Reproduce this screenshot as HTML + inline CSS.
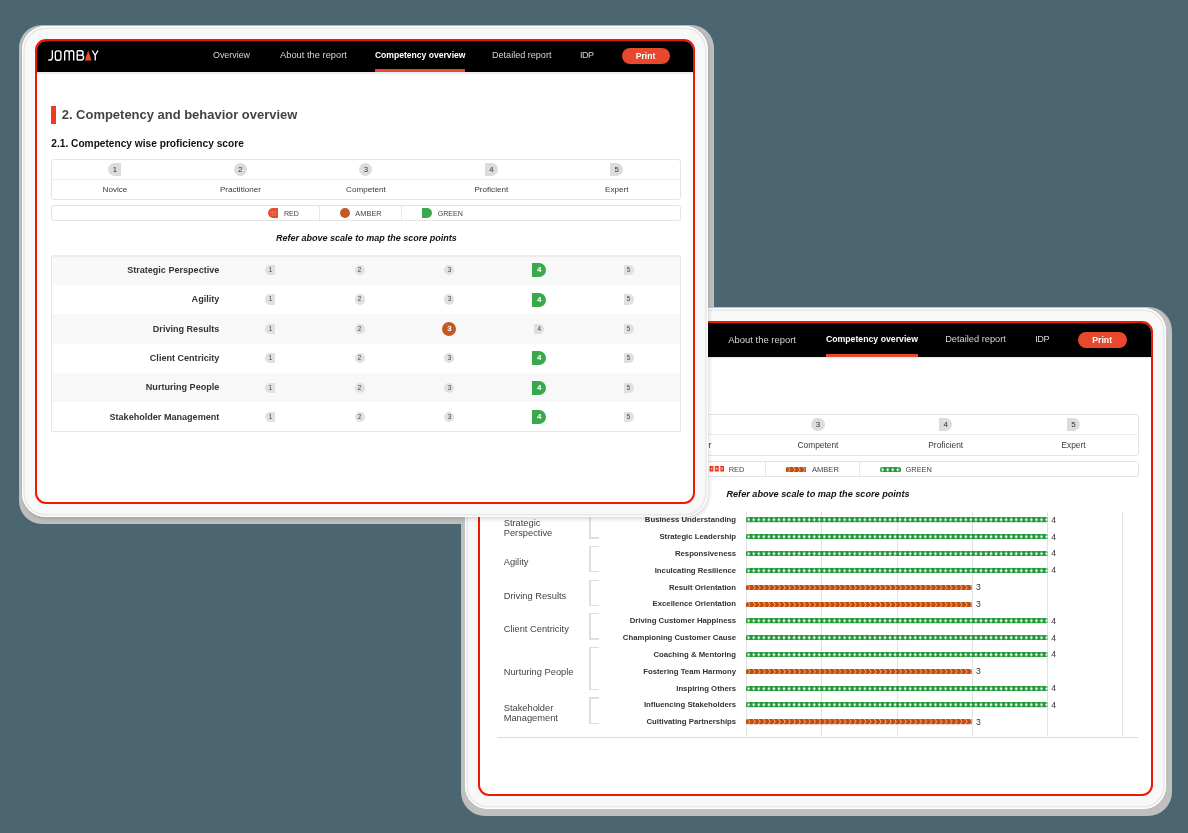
<!DOCTYPE html>
<html><head><meta charset="utf-8"><style>
html,body{margin:0;padding:0;}
body{width:1188px;height:833px;background:#4b6670;position:relative;overflow:hidden;font-family:"Liberation Sans", sans-serif;}
div,svg{box-sizing:border-box;}
</style></head><body>

<div style="position:absolute;left:18.8px;top:25px;width:695.1px;height:498.7px;background:#bfbfbf;border-radius:23px;z-index:1"></div>
<div style="position:absolute;left:460.9px;top:306.7px;width:711px;height:509.3px;background:#bfbfbf;border-radius:24px;z-index:2"></div>
<div style="position:absolute;left:465px;top:307.5px;width:701px;height:501.5px;background:#f8f8f8;border-radius:23px;box-shadow:inset 0 0 0 1.4px #fff,inset 0 0 0 2.7px #e3e3e3;z-index:2"></div>
<div style="position:absolute;left:478px;top:321px;width:675px;height:475px;border:2px solid #ee1a00;border-radius:11px;background:#fff;overflow:hidden;z-index:2;will-change:transform"><div style="position:absolute;left:0px;top:0px;width:673.1px;height:33.8px;background:#000;box-shadow:0 1px 1.5px rgba(0,0,0,0.13)"></div><div style="position:absolute;left:0px;top:33.8px;width:673.1px;height:1.5px;background:#ededed"></div><svg style="position:absolute;left:11px;top:9px;overflow:visible" width="50" height="11" viewBox="0 0 50 11">
<g fill="none" stroke="#fff" stroke-width="1.35">
<path d="M4.3 0.3 V7.6 Q4.3 10 2 10 H0.3"/>
<rect x="7.3" y="0.8" width="5.6" height="9.4" rx="2.2"/>
<path d="M16.7 10.6 V2.8 Q16.7 0.7 18.8 0.7 Q21.2 0.7 21.2 2.8 V10.6 M21.2 2.8 Q21.2 0.7 23.6 0.7 Q25.7 0.7 25.7 2.8 V10.6"/>
<path d="M29.2 0.7 H33 Q35.1 0.7 35.1 2.9 Q35.1 5.1 33 5.1 H29.2 M29.2 5.1 H33.3 Q35.6 5.1 35.6 7.6 Q35.6 10 33.3 10 H29.2 M29.2 0.7 V10"/>
<path d="M44.3 0.5 L47.2 5.3 L50 0.5 M47.2 5.3 V10.6"/>
</g>
<path d="M40.2 0.2 L43.6 10.6 H36.9 Z" fill="#f04a28"/>
</svg><div style="position:absolute;left:180px;top:11.73px;font-size:9.3px;line-height:9.3px;white-space:nowrap;color:#d6d6d6;">Overview</div><div style="position:absolute;left:248.3px;top:11.6px;font-size:9.45px;line-height:9.45px;white-space:nowrap;color:#d6d6d6;">About the report</div><div style="position:absolute;left:345.9px;top:12.21px;font-size:8.73px;line-height:8.73px;white-space:nowrap;color:#fff;font-weight:bold;">Competency overview</div><div style="position:absolute;left:345.9px;top:30.7px;width:92.2px;height:2.9px;background:#e8482e"></div><div style="position:absolute;left:465.2px;top:11.77px;font-size:9.25px;line-height:9.25px;white-space:nowrap;color:#d6d6d6;">Detailed report</div><div style="position:absolute;left:555.2px;top:11.81px;font-size:9.2px;line-height:9.2px;white-space:nowrap;color:#d6d6d6;letter-spacing:-0.45px;">IDP</div><div style="position:absolute;left:598px;top:9.2px;width:48.5px;height:16px;background:#e8482e;border-radius:8px"></div><div style="position:absolute;left:592.2px;top:13.14px;font-size:8.7px;line-height:8.7px;white-space:nowrap;width:60px;text-align:center;color:#fff;font-weight:bold;">Print</div><div style="position:absolute;left:18.7px;top:91.3px;width:640.3px;height:41.3px;border:1px solid #e4e4e4;border-radius:3px;"></div><div style="position:absolute;left:18.7px;top:110.6px;width:640.3px;height:1px;background:#ececec"></div><div style="position:absolute;left:75.75px;top:95.05px;width:13.2px;height:13.2px;border-radius:6.6px 0 0 6.6px;background:#dcdcdc;color:#333;font-size:8px;line-height:13.2px;text-align:center;">1</div><div style="position:absolute;left:22.35px;top:117.89px;font-size:8.4px;line-height:8.4px;white-space:nowrap;width:120px;text-align:center;color:#3a3a3a;">Novice</div><div style="position:absolute;left:203.55px;top:95.05px;width:13.2px;height:13.2px;border-radius:50%;background:#dcdcdc;color:#333;font-size:8px;line-height:13.2px;text-align:center;">2</div><div style="position:absolute;left:150.15px;top:117.89px;font-size:8.4px;line-height:8.4px;white-space:nowrap;width:120px;text-align:center;color:#3a3a3a;">Practitioner</div><div style="position:absolute;left:331.35px;top:95.05px;width:13.2px;height:13.2px;border-radius:50%;background:#dcdcdc;color:#333;font-size:8px;line-height:13.2px;text-align:center;">3</div><div style="position:absolute;left:277.95px;top:117.89px;font-size:8.4px;line-height:8.4px;white-space:nowrap;width:120px;text-align:center;color:#3a3a3a;">Competent</div><div style="position:absolute;left:459.15px;top:95.05px;width:13.2px;height:13.2px;border-radius:0 6.6px 6.6px 0;background:#dcdcdc;color:#333;font-size:8px;line-height:13.2px;text-align:center;">4</div><div style="position:absolute;left:405.75px;top:117.89px;font-size:8.4px;line-height:8.4px;white-space:nowrap;width:120px;text-align:center;color:#3a3a3a;">Proficient</div><div style="position:absolute;left:586.95px;top:95.05px;width:13.2px;height:13.2px;border-radius:0 6.6px 6.6px 0;background:#dcdcdc;color:#333;font-size:8px;line-height:13.2px;text-align:center;">5</div><div style="position:absolute;left:533.55px;top:117.89px;font-size:8.4px;line-height:8.4px;white-space:nowrap;width:120px;text-align:center;color:#3a3a3a;">Expert</div><div style="position:absolute;left:18.7px;top:138.1px;width:640.3px;height:15.8px;border:1px solid #e4e4e4;border-radius:3px;"></div><div style="position:absolute;left:285px;top:138.1px;width:1px;height:15.8px;background:#e8e8e8"></div><div style="position:absolute;left:379.3px;top:138.1px;width:1px;height:15.8px;background:#e8e8e8"></div><div style="position:absolute;left:248.7px;top:142.95px;font-size:7.5px;line-height:7.5px;white-space:nowrap;color:#444;">RED</div><div style="position:absolute;left:331.9px;top:142.87px;font-size:7.6px;line-height:7.6px;white-space:nowrap;color:#444;">AMBER</div><div style="position:absolute;left:425.6px;top:143.04px;font-size:7.4px;line-height:7.4px;white-space:nowrap;color:#444;">GREEN</div><svg style="position:absolute;left:228.5px;top:143.3px" width="15.1" height="5.5"><defs><pattern id="pr" width="5.3" height="5.5" patternUnits="userSpaceOnUse"><rect x="0.6" y="0" width="3.8" height="5.5" fill="#ee2a10"/><rect x="1.7" y="1.5" width="1.6" height="2.4" fill="#f8b0a0"/></pattern></defs><rect width="100%" height="100%" fill="url(#pr)"/></svg><svg style="position:absolute;left:305.8px;top:143.5px" width="20.7" height="5.3"><rect width="20.7" height="5.3" rx="1.2" fill="url(#pa)"/></svg><svg style="position:absolute;left:399.7px;top:143.5px" width="21.1" height="5.3"><rect width="21.1" height="5.3" rx="2.4" fill="url(#pg)"/></svg><div style="position:absolute;left:188px;top:166.75px;font-size:9.15px;line-height:9.15px;white-space:nowrap;width:300px;text-align:center;color:#111;font-weight:bold;font-style:italic;">Refer above scale to map the score points</div><div style="position:absolute;left:266px;top:189px;width:1px;height:223.8px;background:#e2e2e2"></div><div style="position:absolute;left:341px;top:189px;width:1px;height:223.8px;background:#e2e2e2"></div><div style="position:absolute;left:417px;top:189px;width:1px;height:223.8px;background:#e2e2e2"></div><div style="position:absolute;left:492px;top:189px;width:1px;height:223.8px;background:#e2e2e2"></div><div style="position:absolute;left:567px;top:189px;width:1px;height:223.8px;background:#e2e2e2"></div><div style="position:absolute;left:642px;top:189px;width:1px;height:223.8px;background:#e2e2e2"></div><div style="position:absolute;left:17.3px;top:413.6px;width:640.9px;height:1.4px;background:#dcdcdc"></div><div style="position:absolute;left:56.1px;top:193.34px;font-size:7.75px;line-height:7.75px;white-space:nowrap;width:200px;text-align:right;color:#333;font-weight:bold;">Business Understanding</div><svg style="position:absolute;left:265.9px;top:194.35px" width="301.7" height="5.3"><rect width="301.7" height="5.3" rx="1.6" fill="url(#pg)"/></svg><div style="position:absolute;left:571.2px;top:192.72px;font-size:8.6px;line-height:8.6px;white-space:nowrap;color:#333;">4</div><div style="position:absolute;left:56.1px;top:210.17px;font-size:7.75px;line-height:7.75px;white-space:nowrap;width:200px;text-align:right;color:#333;font-weight:bold;">Strategic Leadership</div><svg style="position:absolute;left:265.9px;top:211.18px" width="301.7" height="5.3"><rect width="301.7" height="5.3" rx="1.6" fill="url(#pg)"/></svg><div style="position:absolute;left:571.2px;top:209.55px;font-size:8.6px;line-height:8.6px;white-space:nowrap;color:#333;">4</div><div style="position:absolute;left:56.1px;top:227px;font-size:7.75px;line-height:7.75px;white-space:nowrap;width:200px;text-align:right;color:#333;font-weight:bold;">Responsiveness</div><svg style="position:absolute;left:265.9px;top:228.01px" width="301.7" height="5.3"><rect width="301.7" height="5.3" rx="1.6" fill="url(#pg)"/></svg><div style="position:absolute;left:571.2px;top:226.38px;font-size:8.6px;line-height:8.6px;white-space:nowrap;color:#333;">4</div><div style="position:absolute;left:56.1px;top:243.83px;font-size:7.75px;line-height:7.75px;white-space:nowrap;width:200px;text-align:right;color:#333;font-weight:bold;">Inculcating Resilience</div><svg style="position:absolute;left:265.9px;top:244.84px" width="301.7" height="5.3"><rect width="301.7" height="5.3" rx="1.6" fill="url(#pg)"/></svg><div style="position:absolute;left:571.2px;top:243.21px;font-size:8.6px;line-height:8.6px;white-space:nowrap;color:#333;">4</div><div style="position:absolute;left:56.1px;top:260.66px;font-size:7.75px;line-height:7.75px;white-space:nowrap;width:200px;text-align:right;color:#333;font-weight:bold;">Result Orientation</div><svg style="position:absolute;left:265.9px;top:261.67px" width="226.4" height="5.3"><rect width="226.4" height="5.3" rx="1.6" fill="url(#pa)"/></svg><div style="position:absolute;left:495.9px;top:260.04px;font-size:8.6px;line-height:8.6px;white-space:nowrap;color:#333;">3</div><div style="position:absolute;left:56.1px;top:277.49px;font-size:7.75px;line-height:7.75px;white-space:nowrap;width:200px;text-align:right;color:#333;font-weight:bold;">Excellence Orientation</div><svg style="position:absolute;left:265.9px;top:278.5px" width="226.4" height="5.3"><rect width="226.4" height="5.3" rx="1.6" fill="url(#pa)"/></svg><div style="position:absolute;left:495.9px;top:276.87px;font-size:8.6px;line-height:8.6px;white-space:nowrap;color:#333;">3</div><div style="position:absolute;left:56.1px;top:294.32px;font-size:7.75px;line-height:7.75px;white-space:nowrap;width:200px;text-align:right;color:#333;font-weight:bold;">Driving Customer Happiness</div><svg style="position:absolute;left:265.9px;top:295.33px" width="301.7" height="5.3"><rect width="301.7" height="5.3" rx="1.6" fill="url(#pg)"/></svg><div style="position:absolute;left:571.2px;top:293.7px;font-size:8.6px;line-height:8.6px;white-space:nowrap;color:#333;">4</div><div style="position:absolute;left:56.1px;top:311.15px;font-size:7.75px;line-height:7.75px;white-space:nowrap;width:200px;text-align:right;color:#333;font-weight:bold;">Championing Customer Cause</div><svg style="position:absolute;left:265.9px;top:312.16px" width="301.7" height="5.3"><rect width="301.7" height="5.3" rx="1.6" fill="url(#pg)"/></svg><div style="position:absolute;left:571.2px;top:310.53px;font-size:8.6px;line-height:8.6px;white-space:nowrap;color:#333;">4</div><div style="position:absolute;left:56.1px;top:327.98px;font-size:7.75px;line-height:7.75px;white-space:nowrap;width:200px;text-align:right;color:#333;font-weight:bold;">Coaching &amp; Mentoring</div><svg style="position:absolute;left:265.9px;top:328.99px" width="301.7" height="5.3"><rect width="301.7" height="5.3" rx="1.6" fill="url(#pg)"/></svg><div style="position:absolute;left:571.2px;top:327.36px;font-size:8.6px;line-height:8.6px;white-space:nowrap;color:#333;">4</div><div style="position:absolute;left:56.1px;top:344.81px;font-size:7.75px;line-height:7.75px;white-space:nowrap;width:200px;text-align:right;color:#333;font-weight:bold;">Fostering Team Harmony</div><svg style="position:absolute;left:265.9px;top:345.82px" width="226.4" height="5.3"><rect width="226.4" height="5.3" rx="1.6" fill="url(#pa)"/></svg><div style="position:absolute;left:495.9px;top:344.19px;font-size:8.6px;line-height:8.6px;white-space:nowrap;color:#333;">3</div><div style="position:absolute;left:56.1px;top:361.64px;font-size:7.75px;line-height:7.75px;white-space:nowrap;width:200px;text-align:right;color:#333;font-weight:bold;">Inspiring Others</div><svg style="position:absolute;left:265.9px;top:362.65px" width="301.7" height="5.3"><rect width="301.7" height="5.3" rx="1.6" fill="url(#pg)"/></svg><div style="position:absolute;left:571.2px;top:361.02px;font-size:8.6px;line-height:8.6px;white-space:nowrap;color:#333;">4</div><div style="position:absolute;left:56.1px;top:378.47px;font-size:7.75px;line-height:7.75px;white-space:nowrap;width:200px;text-align:right;color:#333;font-weight:bold;">Influencing Stakeholders</div><svg style="position:absolute;left:265.9px;top:379.48px" width="301.7" height="5.3"><rect width="301.7" height="5.3" rx="1.6" fill="url(#pg)"/></svg><div style="position:absolute;left:571.2px;top:377.85px;font-size:8.6px;line-height:8.6px;white-space:nowrap;color:#333;">4</div><div style="position:absolute;left:56.1px;top:395.3px;font-size:7.75px;line-height:7.75px;white-space:nowrap;width:200px;text-align:right;color:#333;font-weight:bold;">Cultivating Partnerships</div><svg style="position:absolute;left:265.9px;top:396.31px" width="226.4" height="5.3"><rect width="226.4" height="5.3" rx="1.6" fill="url(#pa)"/></svg><div style="position:absolute;left:495.9px;top:394.68px;font-size:8.6px;line-height:8.6px;white-space:nowrap;color:#333;">3</div><div style="position:absolute;left:109.3px;top:189.2px;width:1.5px;height:26.43px;background:#dedede"></div><div style="position:absolute;left:109.3px;top:189.2px;width:9.4px;height:1.2px;background:#dedede"></div><div style="position:absolute;left:109.3px;top:214.43px;width:9.4px;height:1.2px;background:#dedede"></div><div style="position:absolute;left:23.7px;top:195.54px;font-size:9.3px;line-height:9.3px;white-space:nowrap;color:#444;">Strategic</div><div style="position:absolute;left:23.7px;top:205.74px;font-size:9.3px;line-height:9.3px;white-space:nowrap;color:#444;">Perspective</div><div style="position:absolute;left:109.3px;top:222.86px;width:1.5px;height:26.43px;background:#dedede"></div><div style="position:absolute;left:109.3px;top:222.86px;width:9.4px;height:1.2px;background:#dedede"></div><div style="position:absolute;left:109.3px;top:248.09px;width:9.4px;height:1.2px;background:#dedede"></div><div style="position:absolute;left:23.7px;top:235.1px;font-size:9.3px;line-height:9.3px;white-space:nowrap;color:#444;">Agility</div><div style="position:absolute;left:109.3px;top:256.52px;width:1.5px;height:26.43px;background:#dedede"></div><div style="position:absolute;left:109.3px;top:256.52px;width:9.4px;height:1.2px;background:#dedede"></div><div style="position:absolute;left:109.3px;top:281.75px;width:9.4px;height:1.2px;background:#dedede"></div><div style="position:absolute;left:23.7px;top:268.76px;font-size:9.3px;line-height:9.3px;white-space:nowrap;color:#444;">Driving Results</div><div style="position:absolute;left:109.3px;top:290.18px;width:1.5px;height:26.43px;background:#dedede"></div><div style="position:absolute;left:109.3px;top:290.18px;width:9.4px;height:1.2px;background:#dedede"></div><div style="position:absolute;left:109.3px;top:315.41px;width:9.4px;height:1.2px;background:#dedede"></div><div style="position:absolute;left:23.7px;top:302.42px;font-size:9.3px;line-height:9.3px;white-space:nowrap;color:#444;">Client Centricity</div><div style="position:absolute;left:109.3px;top:323.84px;width:1.5px;height:43.26px;background:#dedede"></div><div style="position:absolute;left:109.3px;top:323.84px;width:9.4px;height:1.2px;background:#dedede"></div><div style="position:absolute;left:109.3px;top:365.9px;width:9.4px;height:1.2px;background:#dedede"></div><div style="position:absolute;left:23.7px;top:344.5px;font-size:9.3px;line-height:9.3px;white-space:nowrap;color:#444;">Nurturing People</div><div style="position:absolute;left:109.3px;top:374.33px;width:1.5px;height:26.43px;background:#dedede"></div><div style="position:absolute;left:109.3px;top:374.33px;width:9.4px;height:1.2px;background:#dedede"></div><div style="position:absolute;left:109.3px;top:399.56px;width:9.4px;height:1.2px;background:#dedede"></div><div style="position:absolute;left:23.7px;top:380.67px;font-size:9.3px;line-height:9.3px;white-space:nowrap;color:#444;">Stakeholder</div><div style="position:absolute;left:23.7px;top:390.87px;font-size:9.3px;line-height:9.3px;white-space:nowrap;color:#444;">Management</div></div>
<div style="position:absolute;left:21.8px;top:25.8px;width:686.3px;height:491.4px;background:#f8f8f8;border-radius:24px;box-shadow:inset 0 0 0 1.4px #fff,inset 0 0 0 2.7px #e3e3e3,1px 1.5px 4px rgba(0,0,0,0.16);z-index:3"></div>
<div style="position:absolute;left:35px;top:39px;width:660px;height:465px;border:2px solid #ee1a00;border-radius:11px;background:#fff;overflow:hidden;z-index:3;will-change:transform"><div style="position:absolute;left:0px;top:0px;width:658.3px;height:31px;background:#000;box-shadow:0 1px 1.5px rgba(0,0,0,0.13)"></div><div style="position:absolute;left:0px;top:31px;width:658.3px;height:1.5px;background:#ededed"></div><svg style="position:absolute;left:11.3px;top:9.3px;overflow:visible" width="50" height="11" viewBox="0 0 50 11">
<g fill="none" stroke="#fff" stroke-width="1.35">
<path d="M4.3 0.3 V7.6 Q4.3 10 2 10 H0.3"/>
<rect x="7.3" y="0.8" width="5.6" height="9.4" rx="2.2"/>
<path d="M16.7 10.6 V2.8 Q16.7 0.7 18.8 0.7 Q21.2 0.7 21.2 2.8 V10.6 M21.2 2.8 Q21.2 0.7 23.6 0.7 Q25.7 0.7 25.7 2.8 V10.6"/>
<path d="M29.2 0.7 H33 Q35.1 0.7 35.1 2.9 Q35.1 5.1 33 5.1 H29.2 M29.2 5.1 H33.3 Q35.6 5.1 35.6 7.6 Q35.6 10 33.3 10 H29.2 M29.2 0.7 V10"/>
<path d="M44.3 0.5 L47.2 5.3 L50 0.5 M47.2 5.3 V10.6"/>
</g>
<path d="M40.2 0.2 L43.6 10.6 H36.9 Z" fill="#f04a28"/>
</svg><div style="position:absolute;left:176px;top:9.97px;font-size:8.9px;line-height:8.9px;white-space:nowrap;color:#d6d6d6;">Overview</div><div style="position:absolute;left:243px;top:9.59px;font-size:9.34px;line-height:9.34px;white-space:nowrap;color:#d6d6d6;">About the report</div><div style="position:absolute;left:337.9px;top:10.24px;font-size:8.58px;line-height:8.58px;white-space:nowrap;color:#fff;font-weight:bold;">Competency overview</div><div style="position:absolute;left:337.9px;top:28.4px;width:90.6px;height:2.6px;background:#e8482e"></div><div style="position:absolute;left:455px;top:9.82px;font-size:9.07px;line-height:9.07px;white-space:nowrap;color:#d6d6d6;">Detailed report</div><div style="position:absolute;left:543px;top:9.88px;font-size:9px;line-height:9px;white-space:nowrap;color:#d6d6d6;letter-spacing:-0.55px;">IDP</div><div style="position:absolute;left:584.6px;top:6.9px;width:48px;height:16px;background:#e8482e;border-radius:8px"></div><div style="position:absolute;left:578.6px;top:10.92px;font-size:8.6px;line-height:8.6px;white-space:nowrap;width:60px;text-align:center;color:#fff;font-weight:bold;">Print</div><div style="position:absolute;left:14.3px;top:64.6px;width:4.7px;height:18.9px;background:#ee3a22"></div><div style="position:absolute;left:24.7px;top:68.32px;font-size:12.97px;line-height:12.97px;white-space:nowrap;color:#444;font-weight:bold;">2. Competency and behavior overview</div><div style="position:absolute;left:14.3px;top:97.9px;font-size:10.16px;line-height:10.16px;white-space:nowrap;color:#111;font-weight:bold;">2.1. Competency wise proficiency score</div><div style="position:absolute;left:14.4px;top:118.4px;width:629.6px;height:40.2px;border:1px solid #e4e4e4;border-radius:3px;"></div><div style="position:absolute;left:14.4px;top:137.6px;width:629.6px;height:1px;background:#ececec"></div><div style="position:absolute;left:71.4px;top:121.7px;width:13.1px;height:13.1px;border-radius:6.55px 0 0 6.55px;background:#dcdcdc;color:#333;font-size:7.8px;line-height:13.1px;text-align:center;">1</div><div style="position:absolute;left:17.95px;top:144.74px;font-size:8.1px;line-height:8.1px;white-space:nowrap;width:120px;text-align:center;color:#3a3a3a;">Novice</div><div style="position:absolute;left:196.86px;top:121.7px;width:13.1px;height:13.1px;border-radius:50%;background:#dcdcdc;color:#333;font-size:7.8px;line-height:13.1px;text-align:center;">2</div><div style="position:absolute;left:143.41px;top:144.74px;font-size:8.1px;line-height:8.1px;white-space:nowrap;width:120px;text-align:center;color:#3a3a3a;">Practitioner</div><div style="position:absolute;left:322.32px;top:121.7px;width:13.1px;height:13.1px;border-radius:50%;background:#dcdcdc;color:#333;font-size:7.8px;line-height:13.1px;text-align:center;">3</div><div style="position:absolute;left:268.87px;top:144.74px;font-size:8.1px;line-height:8.1px;white-space:nowrap;width:120px;text-align:center;color:#3a3a3a;">Competent</div><div style="position:absolute;left:447.78px;top:121.7px;width:13.1px;height:13.1px;border-radius:0 6.55px 6.55px 0;background:#dcdcdc;color:#333;font-size:7.8px;line-height:13.1px;text-align:center;">4</div><div style="position:absolute;left:394.33px;top:144.74px;font-size:8.1px;line-height:8.1px;white-space:nowrap;width:120px;text-align:center;color:#3a3a3a;">Proficient</div><div style="position:absolute;left:573.24px;top:121.7px;width:13.1px;height:13.1px;border-radius:0 6.55px 6.55px 0;background:#dcdcdc;color:#333;font-size:7.8px;line-height:13.1px;text-align:center;">5</div><div style="position:absolute;left:519.79px;top:144.74px;font-size:8.1px;line-height:8.1px;white-space:nowrap;width:120px;text-align:center;color:#3a3a3a;">Expert</div><div style="position:absolute;left:14.4px;top:164px;width:629.6px;height:15.6px;border:1px solid #e4e4e4;border-radius:3px;"></div><div style="position:absolute;left:282px;top:164px;width:1px;height:15.6px;background:#e8e8e8"></div><div style="position:absolute;left:364.3px;top:164px;width:1px;height:15.6px;background:#e8e8e8"></div><svg style="position:absolute;left:231.4px;top:167px" width="10.1" height="10"><defs><pattern id="prd" width="2.6" height="2.6" patternUnits="userSpaceOnUse" x="0.6" y="0.6"><rect width="2.6" height="2.6" fill="#e84a2e"/><rect x="0.5" y="0.5" width="1.2" height="1.2" fill="#f2a08a"/></pattern></defs><path d="M5 0 H10.1 V10 H5 A5 5 0 0 1 5 0 Z" fill="#e84a2e"/><rect x="2" y="2" width="6.6" height="6" fill="url(#prd)"/></svg><div style="position:absolute;left:302.5px;top:167px;width:10.3px;height:10.3px;background:#c45a23;border-radius:50%"></div><div style="position:absolute;left:384.9px;top:167px;width:10.1px;height:10px;background:#3aa94c;border-radius:0 5px 5px 0"></div><div style="position:absolute;left:246.9px;top:169.99px;font-size:7.1px;line-height:7.1px;white-space:nowrap;color:#444;">RED</div><div style="position:absolute;left:318.3px;top:168.99px;font-size:7.45px;line-height:7.45px;white-space:nowrap;color:#444;">AMBER</div><div style="position:absolute;left:400.7px;top:169.99px;font-size:7.1px;line-height:7.1px;white-space:nowrap;color:#444;">GREEN</div><div style="position:absolute;left:179.4px;top:193.46px;font-size:9.02px;line-height:9.02px;white-space:nowrap;width:300px;text-align:center;color:#111;font-weight:bold;font-style:italic;">Refer above scale to map the score points</div><div style="position:absolute;left:14.4px;top:214.4px;width:629.6px;height:176.4px;border:1px solid #e6e6e6;border-top:2px solid #ececec;border-radius:2px;"></div><div style="position:absolute;left:15.4px;top:216.4px;width:627.6px;height:27.4px;background:#f8f8f8"></div><div style="position:absolute;left:-17.7px;top:224.72px;font-size:9.07px;line-height:9.07px;white-space:nowrap;width:200px;text-align:right;color:#333;font-weight:bold;">Strategic Perspective</div><div style="position:absolute;left:228.3px;top:224px;width:10.2px;height:10.2px;border-radius:5.1px 0 0 5.1px;background:#e0e0e0;color:#444;font-size:6.3px;line-height:10.2px;text-align:center;">1</div><div style="position:absolute;left:317.5px;top:224px;width:10.2px;height:10.2px;border-radius:50%;background:#e0e0e0;color:#444;font-size:6.3px;line-height:10.2px;text-align:center;">2</div><div style="position:absolute;left:407.3px;top:224px;width:10.2px;height:10.2px;border-radius:50%;background:#e0e0e0;color:#444;font-size:6.3px;line-height:10.2px;text-align:center;">3</div><div style="position:absolute;left:495.2px;top:222.1px;width:14px;height:14px;border-radius:0 7px 7px 0;background:#3aa94c;color:#fff;font-size:8px;line-height:14px;text-align:center;font-weight:bold;">4</div><div style="position:absolute;left:586.5px;top:224px;width:10.2px;height:10.2px;border-radius:0 5.1px 5.1px 0;background:#e0e0e0;color:#444;font-size:6.3px;line-height:10.2px;text-align:center;">5</div><div style="position:absolute;left:-17.7px;top:254.12px;font-size:9.07px;line-height:9.07px;white-space:nowrap;width:200px;text-align:right;color:#333;font-weight:bold;">Agility</div><div style="position:absolute;left:228.3px;top:253.4px;width:10.2px;height:10.2px;border-radius:5.1px 0 0 5.1px;background:#e0e0e0;color:#444;font-size:6.3px;line-height:10.2px;text-align:center;">1</div><div style="position:absolute;left:317.5px;top:253.4px;width:10.2px;height:10.2px;border-radius:50%;background:#e0e0e0;color:#444;font-size:6.3px;line-height:10.2px;text-align:center;">2</div><div style="position:absolute;left:407.3px;top:253.4px;width:10.2px;height:10.2px;border-radius:50%;background:#e0e0e0;color:#444;font-size:6.3px;line-height:10.2px;text-align:center;">3</div><div style="position:absolute;left:495.2px;top:251.5px;width:14px;height:14px;border-radius:0 7px 7px 0;background:#3aa94c;color:#fff;font-size:8px;line-height:14px;text-align:center;font-weight:bold;">4</div><div style="position:absolute;left:586.5px;top:253.4px;width:10.2px;height:10.2px;border-radius:0 5.1px 5.1px 0;background:#e0e0e0;color:#444;font-size:6.3px;line-height:10.2px;text-align:center;">5</div><div style="position:absolute;left:15.4px;top:273.2px;width:627.6px;height:29.4px;background:#f8f8f8"></div><div style="position:absolute;left:-17.7px;top:283.52px;font-size:9.07px;line-height:9.07px;white-space:nowrap;width:200px;text-align:right;color:#333;font-weight:bold;">Driving Results</div><div style="position:absolute;left:228.3px;top:282.8px;width:10.2px;height:10.2px;border-radius:5.1px 0 0 5.1px;background:#e0e0e0;color:#444;font-size:6.3px;line-height:10.2px;text-align:center;">1</div><div style="position:absolute;left:317.5px;top:282.8px;width:10.2px;height:10.2px;border-radius:50%;background:#e0e0e0;color:#444;font-size:6.3px;line-height:10.2px;text-align:center;">2</div><div style="position:absolute;left:405.4px;top:280.9px;width:14px;height:14px;border-radius:50%;background:#c45a23;color:#fff;font-size:8px;line-height:14px;text-align:center;font-weight:bold;">3</div><div style="position:absolute;left:497.1px;top:282.8px;width:10.2px;height:10.2px;border-radius:0 5.1px 5.1px 0;background:#e0e0e0;color:#444;font-size:6.3px;line-height:10.2px;text-align:center;">4</div><div style="position:absolute;left:586.5px;top:282.8px;width:10.2px;height:10.2px;border-radius:0 5.1px 5.1px 0;background:#e0e0e0;color:#444;font-size:6.3px;line-height:10.2px;text-align:center;">5</div><div style="position:absolute;left:-17.7px;top:312.92px;font-size:9.07px;line-height:9.07px;white-space:nowrap;width:200px;text-align:right;color:#333;font-weight:bold;">Client Centricity</div><div style="position:absolute;left:228.3px;top:312.2px;width:10.2px;height:10.2px;border-radius:5.1px 0 0 5.1px;background:#e0e0e0;color:#444;font-size:6.3px;line-height:10.2px;text-align:center;">1</div><div style="position:absolute;left:317.5px;top:312.2px;width:10.2px;height:10.2px;border-radius:50%;background:#e0e0e0;color:#444;font-size:6.3px;line-height:10.2px;text-align:center;">2</div><div style="position:absolute;left:407.3px;top:312.2px;width:10.2px;height:10.2px;border-radius:50%;background:#e0e0e0;color:#444;font-size:6.3px;line-height:10.2px;text-align:center;">3</div><div style="position:absolute;left:495.2px;top:310.3px;width:14px;height:14px;border-radius:0 7px 7px 0;background:#3aa94c;color:#fff;font-size:8px;line-height:14px;text-align:center;font-weight:bold;">4</div><div style="position:absolute;left:586.5px;top:312.2px;width:10.2px;height:10.2px;border-radius:0 5.1px 5.1px 0;background:#e0e0e0;color:#444;font-size:6.3px;line-height:10.2px;text-align:center;">5</div><div style="position:absolute;left:15.4px;top:332px;width:627.6px;height:29.4px;background:#f8f8f8"></div><div style="position:absolute;left:-17.7px;top:342.32px;font-size:9.07px;line-height:9.07px;white-space:nowrap;width:200px;text-align:right;color:#333;font-weight:bold;">Nurturing People</div><div style="position:absolute;left:228.3px;top:341.6px;width:10.2px;height:10.2px;border-radius:5.1px 0 0 5.1px;background:#e0e0e0;color:#444;font-size:6.3px;line-height:10.2px;text-align:center;">1</div><div style="position:absolute;left:317.5px;top:341.6px;width:10.2px;height:10.2px;border-radius:50%;background:#e0e0e0;color:#444;font-size:6.3px;line-height:10.2px;text-align:center;">2</div><div style="position:absolute;left:407.3px;top:341.6px;width:10.2px;height:10.2px;border-radius:50%;background:#e0e0e0;color:#444;font-size:6.3px;line-height:10.2px;text-align:center;">3</div><div style="position:absolute;left:495.2px;top:339.7px;width:14px;height:14px;border-radius:0 7px 7px 0;background:#3aa94c;color:#fff;font-size:8px;line-height:14px;text-align:center;font-weight:bold;">4</div><div style="position:absolute;left:586.5px;top:341.6px;width:10.2px;height:10.2px;border-radius:0 5.1px 5.1px 0;background:#e0e0e0;color:#444;font-size:6.3px;line-height:10.2px;text-align:center;">5</div><div style="position:absolute;left:-17.7px;top:371.72px;font-size:9.07px;line-height:9.07px;white-space:nowrap;width:200px;text-align:right;color:#333;font-weight:bold;">Stakeholder Management</div><div style="position:absolute;left:228.3px;top:371px;width:10.2px;height:10.2px;border-radius:5.1px 0 0 5.1px;background:#e0e0e0;color:#444;font-size:6.3px;line-height:10.2px;text-align:center;">1</div><div style="position:absolute;left:317.5px;top:371px;width:10.2px;height:10.2px;border-radius:50%;background:#e0e0e0;color:#444;font-size:6.3px;line-height:10.2px;text-align:center;">2</div><div style="position:absolute;left:407.3px;top:371px;width:10.2px;height:10.2px;border-radius:50%;background:#e0e0e0;color:#444;font-size:6.3px;line-height:10.2px;text-align:center;">3</div><div style="position:absolute;left:495.2px;top:369.1px;width:14px;height:14px;border-radius:0 7px 7px 0;background:#3aa94c;color:#fff;font-size:8px;line-height:14px;text-align:center;font-weight:bold;">4</div><div style="position:absolute;left:586.5px;top:371px;width:10.2px;height:10.2px;border-radius:0 5.1px 5.1px 0;background:#e0e0e0;color:#444;font-size:6.3px;line-height:10.2px;text-align:center;">5</div></div>
<svg width="0" height="0" style="position:absolute"><defs>
<pattern id="pg" width="5.05" height="5.3" patternUnits="userSpaceOnUse"><rect width="5.05" height="5.3" fill="#1f9a38"/><path d="M2.6 1.05 L4.1 2.65 L2.6 4.25 L1.1 2.65 Z" fill="#fff"/><circle cx="2.6" cy="2.65" r="1.05" fill="#fff"/><path d="M1.9 0 H3.3 L2.6 0.7 Z M1.9 5.3 H3.3 L2.6 4.6 Z" fill="#bfe0c4"/></pattern>
<pattern id="pa" width="5.05" height="5.3" patternUnits="userSpaceOnUse" x="4.4"><rect width="5.05" height="5.3" fill="#c44c0a"/><path d="M2.6 -0.2 L4.5 2.65 L2.6 5.5" stroke="#fbd5c5" stroke-width="0.8" fill="none"/><circle cx="2.7" cy="2.65" r="0.5" fill="#b33000"/></pattern>
</defs></svg>
</body></html>
